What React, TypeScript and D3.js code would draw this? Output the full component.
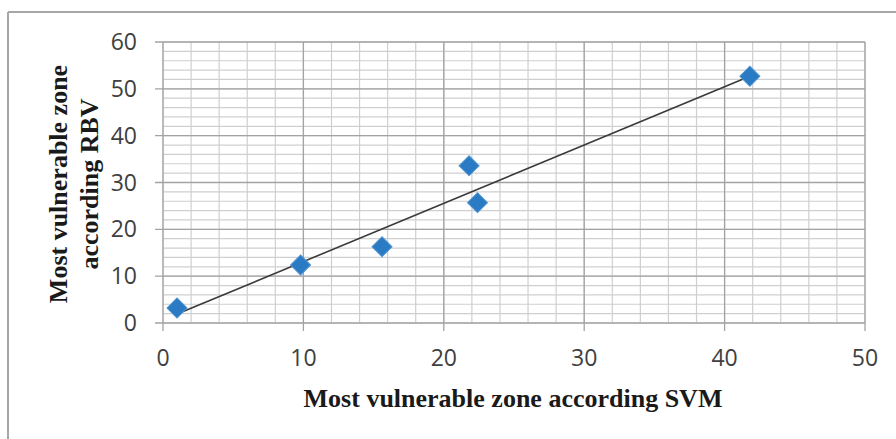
import React from "react";
import * as d3 from "d3";

const svmValues = [1.0, 9.8, 15.6, 21.8, 22.4, 41.8];
const rbvValues = [3.2, 12.4, 16.3, 33.6, 25.7, 52.7];
const xTicks = [0, 10, 20, 30, 40, 50];
const yTicks = [0, 10, 20, 30, 40, 50, 60];
const xTitle = "Most vulnerable zone according SVM";
const yTitleLines = ["Most vulnerable zone", "according RBV"];

const W = 896;
const H = 439;

export default function App() {
  const x = d3.scaleLinear().domain([0, 50]).range([163, 865]);
  const y = d3.scaleLinear().domain([0, 60]).range([323, 42]);

  const minorX = d3.range(0, 50.001, 2);
  const minorY = d3.range(0, 60.001, 2);

  // least squares trend line
  const mx = d3.mean(svmValues)!;
  const my = d3.mean(rbvValues)!;
  let sxy = 0, sxx = 0;
  svmValues.forEach((v, i) => {
    sxy += (v - mx) * (rbvValues[i] - my);
    sxx += (v - mx) * (v - mx);
  });
  const slope = sxy / sxx;
  const intercept = my - slope * mx;
  const x0 = d3.min(svmValues)!;
  const x1 = d3.max(svmValues)!;
  const trend = d3.line<[number, number]>()
    .x((d) => x(d[0]))
    .y((d) => y(d[1]))([
      [x0, intercept + slope * x0],
      [x1, intercept + slope * x1],
    ]);

  const diamond = d3.symbol().type(d3.symbolSquare).size(200)()!;

  return (
    <svg
      width={W}
      height={H}
      style={{ position: "absolute", left: 0, top: 0, background: "#fff" }}
    >
      <rect x={0} y={0} width={W} height={H} fill="#fff" />
      {/* outer frame */}
      <line x1={8} y1={12} x2={W} y2={12} stroke="#a6a6a6" strokeWidth={2} />
      <line x1={8} y1={12} x2={8} y2={H} stroke="#a6a6a6" strokeWidth={2} />

      {/* minor grid */}
      {minorX.map((v) => (
        <line key={"mx" + v} x1={x(v)} x2={x(v)} y1={y(60)} y2={y(0)} stroke="#cfcfcf" strokeWidth={1.2} />
      ))}
      {minorY.map((v) => (
        <line key={"my" + v} x1={x(0)} x2={x(50)} y1={y(v)} y2={y(v)} stroke="#cfcfcf" strokeWidth={1.2} />
      ))}
      {/* major grid */}
      {xTicks.map((v) => (
        <line key={"gx" + v} x1={x(v)} x2={x(v)} y1={y(60)} y2={y(0) + 8} stroke="#a3a3a3" strokeWidth={1.3} />
      ))}
      {yTicks.map((v) => (
        <line key={"gy" + v} x1={x(0) - 8} x2={x(50)} y1={y(v)} y2={y(v)} stroke="#a3a3a3" strokeWidth={1.3} />
      ))}

      {/* tick labels */}
      {yTicks.map((v) => (
        <text
          key={"ty" + v}
          x={137}
          y={y(v)}
          dy="0.35em"
          textAnchor="end"
          fontFamily="'Open Sans', sans-serif"
          fontSize={23}
          fill="#404040"
        >
          {v}
        </text>
      ))}
      {xTicks.map((v) => (
        <text
          key={"tx" + v}
          x={x(v)}
          y={366}
          textAnchor="middle"
          fontFamily="'Open Sans', sans-serif"
          fontSize={23}
          fill="#404040"
        >
          {v}
        </text>
      ))}

      {/* trend line */}
      <path d={trend!} stroke="#3a3a3a" strokeWidth={1.6} fill="none" />

      {/* markers */}
      {svmValues.map((v, i) => (
        <path
          key={"p" + i}
          d={diamond}
          transform={`translate(${x(v)},${y(rbvValues[i])}) rotate(45)`}
          fill="#2a7bc3"
          stroke="#4b93d2"
          strokeWidth={1}
        />
      ))}

      {/* axis titles */}
      <text
        x={513}
        y={407}
        textAnchor="middle"
        fontFamily="'Liberation Serif', 'Times New Roman', serif"
        fontWeight="bold"
        fontSize={26}
        fill="#1a1a1a"
      >
        {xTitle}
      </text>
      {yTitleLines.map((t, i) => (
        <text
          key={"yt" + i}
          transform={`translate(${67 + i * 31},184) rotate(-90)`}
          textAnchor="middle"
          fontFamily="'Liberation Serif', 'Times New Roman', serif"
          fontWeight="bold"
          fontSize={26}
          fill="#1a1a1a"
        >
          {t}
        </text>
      ))}
    </svg>
  );
}
